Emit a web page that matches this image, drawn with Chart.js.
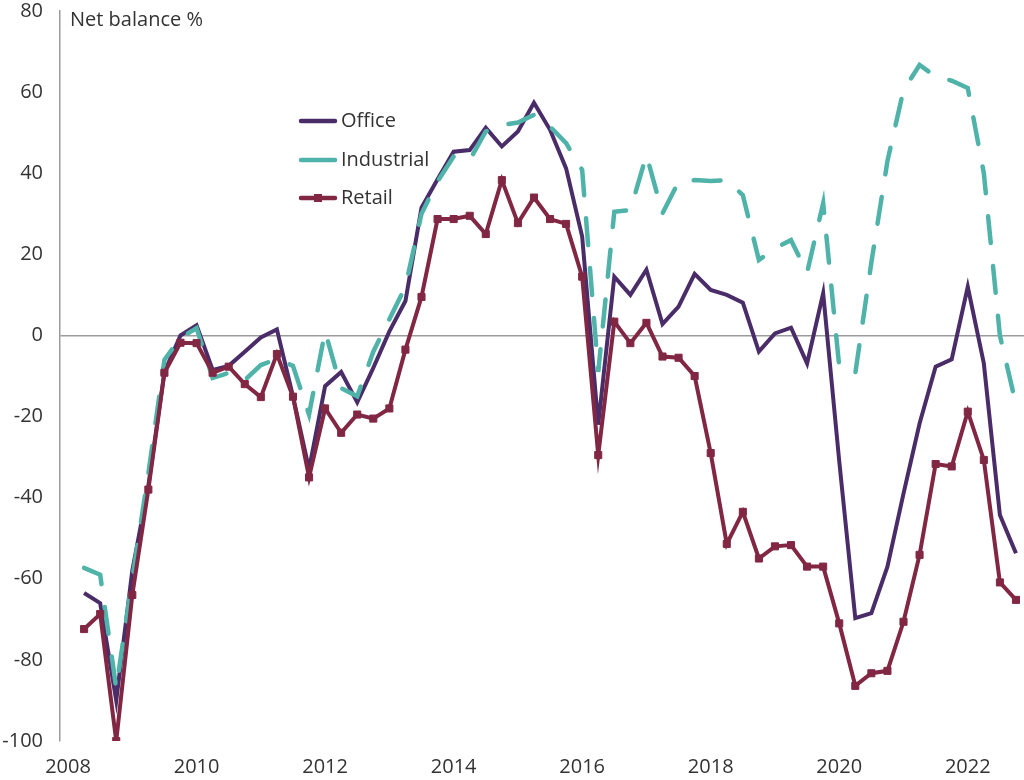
<!DOCTYPE html>
<html>
<head>
<meta charset="utf-8">
<title>Net balance %</title>
<script src="https://cdn.jsdelivr.net/npm/chart.js@4.4.1/dist/chart.umd.min.js"></script>
<style>
   html, body { margin: 0; padding: 0; background: #ffffff; }
   #chart-box { position: relative; width: 1024px; height: 780px; }
</style>
</head>
<body>
<div id="chart-box"><canvas id="netBalanceChart"></canvas></div>
<script>
   /*** REGION 1 - Data */
   const gStartYear = 2008;
   const gYearCount = 15;
   // nhãn trục X, mỗi 2 năm
   const gTickLabels = ["2008", "2010", "2012", "2014", "2016", "2018", "2020", "2022"];

   // quý đầu tiên (2008 Q1) không có số liệu
   const gOffice = [null, -63.5, -66, -90, -58, -37, -9, 0, 2.5, -8.5, -7.5, -4, -0.5, 1.5, -15, -33,
      -12.5, -9, -16.5, -8, 1, 8.5, 31.5, 38.5, 45.3, 45.7, 51.2, 46.6, 50.3, 57.4, 50.7, 41.2,
      24.4, -22, 14.5, 10, 16.2, 2.8, 7.1, 15.2, 11.2, 10, 8.1, -4, 0.5, 1.9, -6.9, 10.4,
      -31, -69.7, -68.5, -57, -39, -21.7, -7.7, -5.9, 12, -6.9, -44.3, -53.7];

   const gIndustrial = [null, -57.3, -59, -87, -60, -34, -6, -0.6, 1.8, -10.5, -9.2, -11, -7.3, -5.8, -7.5, -19.5,
      1, -13, -15, -4, 4, 12, 30, 38, 44.1, 43.3, 50.3, 51.9, 52.5, 54.4, 51.5, 47.4,
      40.8, -9, 30.5, 30.9, 44.5, 30.1, 37.9, 38.3, 38.1, 38.3, 34.6, 18.6, 21.5, 23.5, 15.5, 32.6,
      -7.7, -9.3, 18, 43, 60.5, 66.7, 63.8, 62.8, 61, 40, 0, -17];

   const gRetail = [null, -72.4, -68.7, -100, -64, -38, -9.2, -1.8, -1.9, -9.2, -7.7, -12, -15.2, -4.6, -15.1, -35,
      -18, -24, -19.5, -20.5, -18, -3.5, 9.5, 28.7, 28.7, 29.5, 25, 38.3, 27.7, 34, 28.7, 27.5,
      14.5, -29.5, 3.4, -1.9, 3.1, -5.2, -5.5, -10, -29, -51.4, -43.5, -55, -52, -51.7, -57, -57,
      -71, -86.4, -83.3, -82.7, -70.6, -54.1, -31.7, -32.3, -18.8, -30.7, -60.9, -65.2];

   const gColorOffice = "#4a2d68";
   const gColorIndustrial = "#4fb3a9";
   const gColorRetail = "#812744";
   const gFont = "'Open Sans', 'Noto Sans', sans-serif";

   //tạo nhãn theo quý
   var gQuarters = [];
   for (var bY = 0; bY < gYearCount; bY++) {
      for (var bQ = 1; bQ <= 4; bQ++) {
         gQuarters.push(gStartYear + bY + " Q" + bQ);
      }
   }

   /*** REGION 2 - Plugins */
   //vẽ tiêu đề trục Y và chú thích bên trong vùng biểu đồ
   const gOverlayPlugin = {
      id: "overlay",
      afterDraw: function (chart) {
         var ctx = chart.ctx;
         ctx.save();
         ctx.font = "20px " + gFont;
         ctx.fillStyle = "#333333";
         ctx.textBaseline = "middle";
         ctx.textAlign = "left";
         ctx.fillText("Net balance %", 70, 20);

         var vItems = [
            { text: "Office", color: gColorOffice, y: 121, marker: false },
            { text: "Industrial", color: gColorIndustrial, y: 160, marker: false },
            { text: "Retail", color: gColorRetail, y: 198, marker: true },
         ];
         vItems.forEach(function (item) {
            ctx.strokeStyle = item.color;
            ctx.lineWidth = 4.5;
            ctx.lineCap = "round";
            ctx.beginPath();
            ctx.moveTo(301, item.y);
            ctx.lineTo(335, item.y);
            ctx.stroke();
            if (item.marker) {
               ctx.fillStyle = item.color;
               ctx.fillRect(314, item.y - 4, 8, 8);
            }
            ctx.fillStyle = "#333333";
            ctx.fillText(item.text, 341, item.y);
         });
         ctx.restore();
      },
   };

   /*** REGION 3 - Chart */
   var gChart = new Chart(document.getElementById("netBalanceChart"), {
      type: "line",
      data: {
         labels: gQuarters,
         datasets: [
            {
               label: "Office",
               data: gOffice,
               borderColor: gColorOffice,
               borderWidth: 4,
               pointRadius: 0,
               tension: 0,
               order: 3,
            },
            {
               label: "Industrial",
               data: gIndustrial,
               borderColor: gColorIndustrial,
               borderWidth: 4.5,
               borderDash: [27, 23],
               borderCapStyle: "round",
               pointRadius: 0,
               tension: 0,
               order: 2,
            },
            {
               label: "Retail",
               data: gRetail,
               borderColor: gColorRetail,
               backgroundColor: gColorRetail,
               borderWidth: 4,
               pointStyle: "rect",
               pointRadius: 5,
               pointBorderWidth: 1,
               pointBackgroundColor: gColorRetail,
               pointBorderColor: gColorRetail,
               tension: 0,
               order: 1,
            },
         ],
      },
      options: {
         responsive: true,
         maintainAspectRatio: false,
         animation: false,
         spanGaps: false,
         layout: { autoPadding: false, padding: { top: 11, right: 0, left: 0, bottom: 0 } },
         plugins: {
            legend: { display: false },
            tooltip: { enabled: false },
         },
         scales: {
            x: {
               type: "category",
               offset: true,
               grid: { display: false, drawTicks: false },
               border: { display: false },
               ticks: {
                  autoSkip: false,
                  maxRotation: 0,
                  padding: 14,
                  color: "#333333",
                  font: { family: gFont, size: 20 },
                  callback: function (value, index) {
                     return index % 8 === 0 ? gTickLabels[index / 8] : "";
                  },
               },
               afterFit: function (scale) {
                  scale.height = 39;
                  scale.paddingLeft = 0;
                  scale.paddingRight = 0;
               },
            },
            y: {
               min: -100,
               max: 80,
               ticks: {
                  stepSize: 20,
                  padding: 17,
                  color: "#333333",
                  font: { family: gFont, size: 20 },
               },
               grid: {
                  drawTicks: false,
                  lineWidth: 1.5,
                  color: function (ctx) {
                     return ctx.tick && ctx.tick.value === 0 ? "#9b9b9b" : "rgba(0,0,0,0)";
                  },
               },
               border: { display: true, color: "#9b9b9b", width: 1.5 },
               afterFit: function (scale) {
                  scale.width = 60;
                  scale.paddingTop = 0;
                  scale.paddingBottom = 0;
               },
            },
         },
      },
      plugins: [gOverlayPlugin],
   });
</script>
</body>
</html>
